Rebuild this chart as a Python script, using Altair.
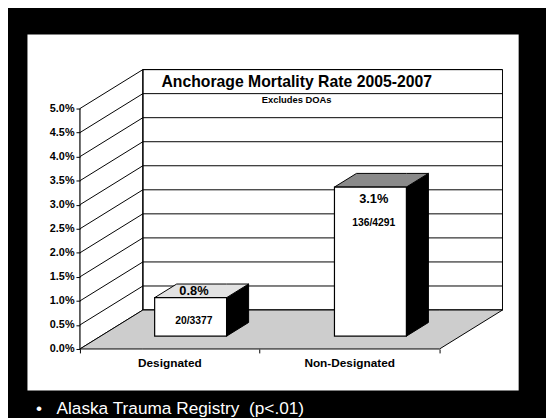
import altair as alt
import pandas as pd

# ---------------- data ----------------
categories = ["Designated", "Non-Designated"]
rates = [0.8, 3.1]                      # mortality rate, %
rate_labels = ["0.8%", "3.1%"]
count_labels = ["20/3377", "136/4291"]
y_ticks = [0.0, 0.5, 1.0, 1.5, 2.0, 2.5, 3.0, 3.5, 4.0, 4.5, 5.0]
top_colors = ["#e2e2e2", "#8a8a8a"]
title_text = "Anchorage Mortality Rate 2005-2007"
subtitle_text = "Excludes DOAs"
note_text = "\u2022\u00a0\u00a0\u00a0Alaska Trauma Registry\u00a0\u00a0(p<.01)"

# ---------------- 3-D styling (scale units) ----------------
DX, DY = 0.35, 0.81        # depth of floor (x units, % units)
BAR_W = 0.4                # bar width (x units)
F0, FD = 0.33, 0.35        # bar front position / bar depth as fraction of floor depth
sx0, sy0 = F0 * DX, F0 * DY
bdx, bdy = FD * DX, FD * DY
YMAX = y_ticks[-1]
NCAT = len(categories)
FONT = "Liberation Sans"

XS = alt.Scale(domain=[-0.296, 2.444], nice=False, zero=False)
YS = alt.Scale(domain=[-0.881, 6.557], nice=False, zero=False)

XAXIS = alt.Axis(values=list(range(NCAT + 1)), labels=False, domain=False, grid=False,
                 ticks=True, tickSize=4, tickColor="black", offset=-43,
                 title=note_text, titleColor="white", titleFont=FONT, titleFontSize=17.5,
                 titleFontWeight="normal", titleAnchor="start", titleAlign="left",
                 titleX=9, titleY=65, titleBaseline="alphabetic")
YAXIS = alt.Axis(values=y_ticks, labelExpr="format(datum.value, '.1f') + '%'",
                 orient="left", offset=-54, domain=False, grid=False, ticks=True,
                 tickSize=4, tickColor="black", labelFont=FONT, labelFontWeight="bold",
                 labelFontSize=11, labelColor="black", labelPadding=2, title=None)


def X(f):
    return alt.X(f, type="quantitative", scale=XS, axis=XAXIS)


def Y(f):
    return alt.Y(f, type="quantitative", scale=YS, axis=YAXIS)


# ---------------- tables built from the data ----------------
wall = pd.DataFrame({"x": [DX], "x2": [NCAT + DX], "y": [DY], "y2": [YMAX + DY]})
grid = pd.DataFrame({"x": DX, "x2": NCAT + DX, "y": [v + DY for v in y_ticks]})
diag = pd.DataFrame({"x": 0.0, "x2": DX, "y": y_ticks, "y2": [v + DY for v in y_ticks]})
edges = pd.DataFrame({"x": [0.0, DX], "y": [0.0, DY], "y2": [YMAX, YMAX + DY]})
floor = pd.DataFrame({"x": [0.0, DX, NCAT, NCAT + DX],
                      "y": [0.0, 0.0, 0.0, DY],
                      "y2": [0.0, DY, DY, DY]})

fronts, sides, tops, rlab, clab, catlab = [], [], [], [], [], []
for i, (c, v) in enumerate(zip(categories, rates)):
    cx = i + 0.5
    xa = cx - BAR_W / 2 + sx0
    xb = cx + BAR_W / 2 + sx0
    fronts.append({"bar": c, "x": xa, "x2": xb, "y": sy0, "y2": v + sy0})
    sides += [{"bar": c, "x": xb, "y": sy0, "y2": v + sy0},
              {"bar": c, "x": xb + bdx, "y": sy0 + bdy, "y2": v + sy0 + bdy}]
    t = v + sy0
    tops += [{"bar": c, "col": top_colors[i], "x": xa, "y": t, "y2": t},
             {"bar": c, "col": top_colors[i], "x": xa + bdx, "y": t, "y2": t + bdy},
             {"bar": c, "col": top_colors[i], "x": xb, "y": t, "y2": t + bdy},
             {"bar": c, "col": top_colors[i], "x": xb + bdx, "y": t + bdy, "y2": t + bdy}]
    lx = cx + sx0 + bdx * 0.15
    ry = (t + bdy / 2) if v < 1 else (t - 0.25)
    rlab.append({"x": lx, "y": ry, "label": rate_labels[i]})
    clab.append({"x": lx, "y": sy0 + max(v - 0.75, v * 0.4), "label": count_labels[i]})
    catlab.append({"x": cx, "y": -0.29, "label": c})

fronts, sides, tops = pd.DataFrame(fronts), pd.DataFrame(sides), pd.DataFrame(tops)
rlab, clab, catlab = pd.DataFrame(rlab), pd.DataFrame(clab), pd.DataFrame(catlab)

# ---------------- layers ----------------
l_wall = alt.Chart(wall).mark_rect(fill="white", stroke="black", strokeWidth=1).encode(
    x=X("x"), x2="x2", y=Y("y"), y2="y2")
l_grid = alt.Chart(grid).mark_rule(color="black", strokeWidth=1).encode(
    x=X("x"), x2="x2", y=Y("y"))
l_diag = alt.Chart(diag).mark_rule(color="black", strokeWidth=1).encode(
    x=X("x"), x2="x2", y=Y("y"), y2="y2")
l_edges = alt.Chart(edges).mark_rule(color="black", strokeWidth=1.2).encode(
    x=X("x"), y=Y("y"), y2="y2")
l_floor = alt.Chart(floor).mark_area(fill="#cdcdcd", stroke="black", strokeWidth=1,
                                     interpolate="linear").encode(
    x=X("x"), y=Y("y"), y2="y2")
l_sides = alt.Chart(sides).mark_area(fill="black", stroke="black", strokeWidth=1).encode(
    x=X("x"), y=Y("y"), y2="y2", detail="bar:N")
l_tops = alt.Chart(tops).mark_area(stroke="black", strokeWidth=1).encode(
    x=X("x"), y=Y("y"), y2="y2", detail="bar:N", fill=alt.Fill("col:N", scale=None))
l_fronts = alt.Chart(fronts).mark_rect(fill="white", stroke="black", strokeWidth=1.2).encode(
    x=X("x"), x2="x2", y=Y("y"), y2="y2")
l_rlab = alt.Chart(rlab).mark_text(font=FONT, fontWeight="bold", fontSize=13,
                                   color="black", baseline="middle").encode(
    x=X("x"), y=Y("y"), text="label:N")
l_clab = alt.Chart(clab).mark_text(font=FONT, fontWeight="bold", fontSize=10.5,
                                   color="black", baseline="middle").encode(
    x=X("x"), y=Y("y"), text="label:N")
l_cat = alt.Chart(catlab).mark_text(font=FONT, fontWeight="bold", fontSize=12,
                                    color="black", baseline="middle").encode(
    x=X("x"), y=Y("y"), text="label:N")

chart = alt.layer(l_wall, l_grid, l_diag, l_edges, l_floor, l_sides, l_tops, l_fronts,
                  l_rlab, l_clab, l_cat).properties(
    width=500, height=363,
    title=alt.TitleParams(text=title_text, subtitle=subtitle_text, font=FONT, fontSize=16,
                          fontWeight="bold", color="black", subtitleFont=FONT,
                          subtitleFontSize=9.5, subtitleFontWeight="bold",
                          subtitleColor="black", subtitlePadding=5, anchor="middle",
                          offset=-72, dx=24),
    autosize=alt.AutoSizeParams(type="none"),
    padding={"left": 19, "top": 23, "right": 27, "bottom": 24},
    background="black",
).configure_view(fill="white", stroke="black", strokeWidth=1.5)

chart.save("out.html", embed_options={"renderer": "svg", "actions": False})
